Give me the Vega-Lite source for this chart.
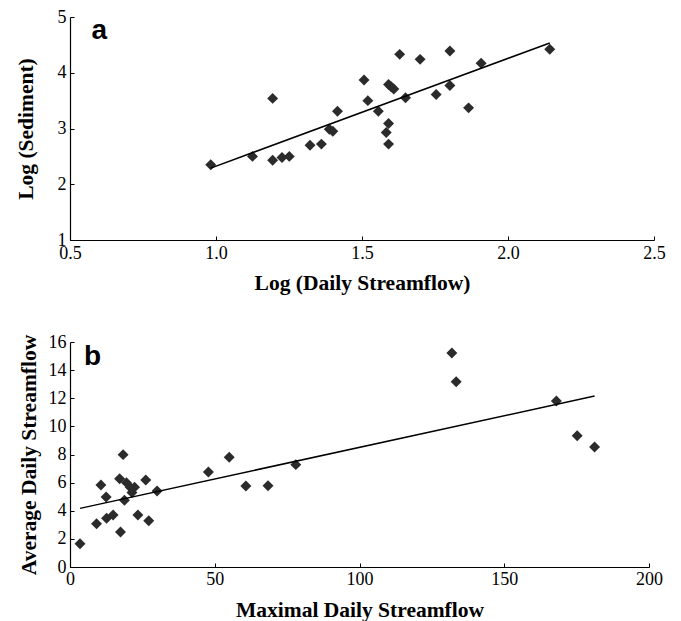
{
  "$schema": "https://vega.github.io/schema/vega-lite/v6.json",
  "background": "white",
  "padding": {"left": 15, "top": 8, "right": 20, "bottom": 5},
  "spacing": 102,
  "bounds": "flush",
  "config": {
    "view": {"stroke": null},
    "axis": {
      "grid": false,
      "domainColor": "black",
      "domainWidth": 1.2,
      "tickColor": "black",
      "tickSize": -4,
      "labelColor": "black",
      "labelFont": "Liberation Serif",
      "labelFontSize": 18,
      "labelOverlap": false,
      "labelFlush": false,
      "titleFont": "Liberation Serif",
      "titleFontSize": 21.5,
      "titleFontWeight": "bold",
      "titleColor": "black"
    }
  },
  "datasets": {
    "a": [
      {"x": 0.982, "y": 2.35}, {"x": 1.125, "y": 2.50}, {"x": 1.194, "y": 2.43}, {"x": 1.226, "y": 2.48},
      {"x": 1.251, "y": 2.50}, {"x": 1.194, "y": 3.54}, {"x": 1.322, "y": 2.70}, {"x": 1.361, "y": 2.72},
      {"x": 1.388, "y": 2.985}, {"x": 1.40, "y": 2.95}, {"x": 1.416, "y": 3.31}, {"x": 1.507, "y": 3.87},
      {"x": 1.52, "y": 3.50}, {"x": 1.556, "y": 3.31}, {"x": 1.583, "y": 2.93}, {"x": 1.591, "y": 3.09},
      {"x": 1.591, "y": 2.72}, {"x": 1.591, "y": 3.79}, {"x": 1.60, "y": 3.75}, {"x": 1.609, "y": 3.71},
      {"x": 1.629, "y": 4.33}, {"x": 1.649, "y": 3.55}, {"x": 1.699, "y": 4.24}, {"x": 1.754, "y": 3.61},
      {"x": 1.801, "y": 4.39}, {"x": 1.801, "y": 3.77}, {"x": 1.865, "y": 3.37}, {"x": 1.908, "y": 4.17},
      {"x": 2.143, "y": 4.42}
    ],
    "afit": [{"x": 0.982, "y": 2.29}, {"x": 2.143, "y": 4.535}],
    "alabel": [{"x": 0.6, "y": 4.75, "t": "a"}],
    "b": [
      {"x": 3.46, "y": 1.66}, {"x": 9.17, "y": 3.08}, {"x": 10.68, "y": 5.83}, {"x": 12.48, "y": 4.98},
      {"x": 12.63, "y": 3.46}, {"x": 14.89, "y": 3.70}, {"x": 17.44, "y": 2.49}, {"x": 17.14, "y": 6.28},
      {"x": 18.35, "y": 7.99}, {"x": 18.8, "y": 4.75}, {"x": 19.5, "y": 6.0}, {"x": 20.8, "y": 5.67},
      {"x": 21.4, "y": 5.29}, {"x": 22.3, "y": 5.68}, {"x": 23.46, "y": 3.70}, {"x": 26.17, "y": 6.19},
      {"x": 27.2, "y": 3.29}, {"x": 30.08, "y": 5.40}, {"x": 47.8, "y": 6.76}, {"x": 55.0, "y": 7.80},
      {"x": 60.75, "y": 5.76}, {"x": 68.4, "y": 5.78}, {"x": 78.0, "y": 7.28}, {"x": 131.9, "y": 15.22},
      {"x": 133.4, "y": 13.18}, {"x": 168.0, "y": 11.80}, {"x": 175.2, "y": 9.34}, {"x": 181.2, "y": 8.53}
    ],
    "bfit": [{"x": 3.46, "y": 4.17}, {"x": 181.2, "y": 12.16}],
    "blabel": [{"x": 7.8, "y": 14.9, "t": "b"}]
  },
  "vconcat": [
    {
      "width": 584,
      "height": 223,
      "encoding": {
        "x": {"field": "x", "type": "quantitative", "scale": {"domain": [0.5, 2.5], "nice": false, "zero": false},
              "axis": {"values": [0.5, 1.0, 1.5, 2.0, 2.5], "format": ".1f", "title": "Log (Daily Streamflow)", "labelPadding": 8, "titlePadding": 10}},
        "y": {"field": "y", "type": "quantitative", "scale": {"domain": [1, 5], "nice": false, "zero": false},
              "axis": {"values": [1, 2, 3, 4, 5], "format": "d", "title": "Log (Sediment)", "labelPadding": 8, "titlePadding": 20, "labelOverlap": false}}
      },
      "layer": [
        {
          "data": {"name": "a"},
          "mark": {"type": "point", "shape": "diamond", "filled": true, "color": "#2b2b2b", "size": 120, "opacity": 1}
        },
        {
          "data": {"name": "afit"},
          "mark": {"type": "line", "color": "black", "strokeWidth": 1.5}
        },
        {
          "data": {"name": "alabel"},
          "mark": {"type": "text", "font": "Liberation Sans", "fontWeight": "bold", "fontSize": 28, "color": "black"},
          "encoding": {"text": {"field": "t"}}
        }
      ]
    },
    {
      "width": 579,
      "height": 225,
      "encoding": {
        "x": {"field": "x", "type": "quantitative", "scale": {"domain": [0, 200], "nice": false},
              "axis": {"values": [0, 50, 100, 150, 200], "title": "Maximal Daily Streamflow", "labelPadding": 7, "titlePadding": 11}},
        "y": {"field": "y", "type": "quantitative", "scale": {"domain": [0, 16], "nice": false},
              "axis": {"values": [0, 2, 4, 6, 8, 10, 12, 14, 16], "title": "Average Daily Streamflow", "labelPadding": 8, "titlePadding": 8, "labelOverlap": false}}
      },
      "layer": [
        {
          "data": {"name": "b"},
          "mark": {"type": "point", "shape": "diamond", "filled": true, "color": "#2b2b2b", "size": 120, "opacity": 1}
        },
        {
          "data": {"name": "bfit"},
          "mark": {"type": "line", "color": "black", "strokeWidth": 1.5}
        },
        {
          "data": {"name": "blabel"},
          "mark": {"type": "text", "font": "Liberation Sans", "fontWeight": "bold", "fontSize": 28, "color": "black"},
          "encoding": {"text": {"field": "t"}}
        }
      ]
    }
  ]
}
